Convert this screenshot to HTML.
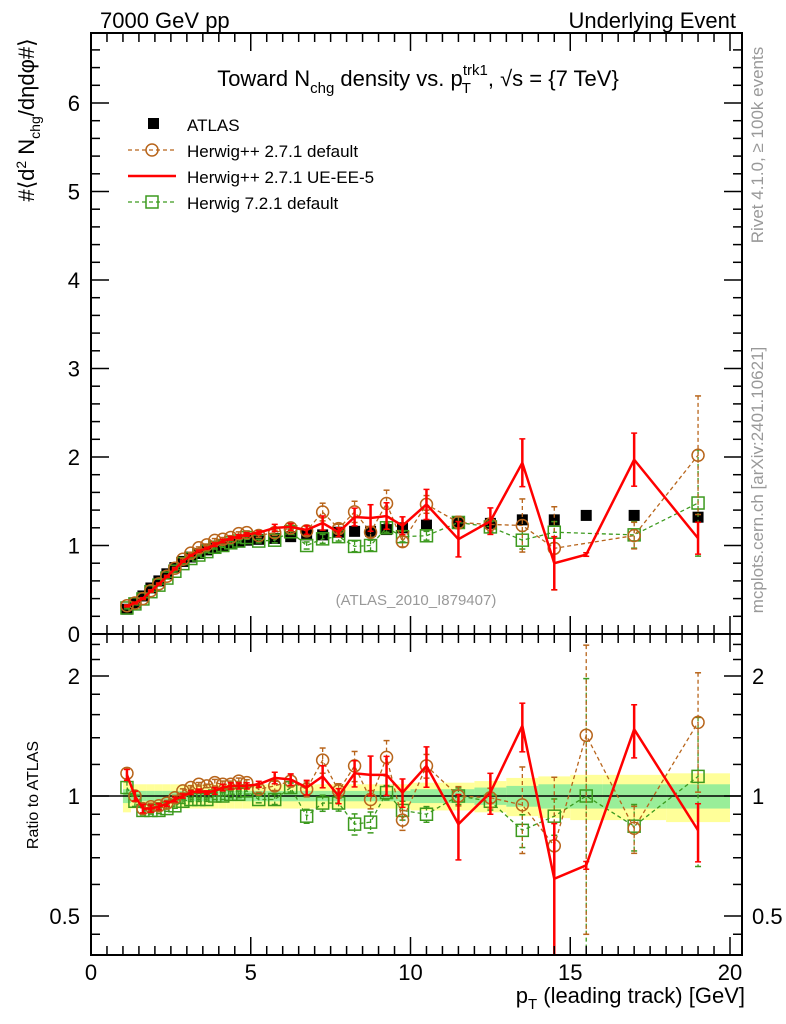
<!DOCTYPE html>
<html><head><meta charset="utf-8"><style>
html,body{margin:0;padding:0;background:#fff;width:786px;height:1024px;overflow:hidden;}
svg{display:block;font-family:"Liberation Sans",sans-serif;overflow:hidden;}
</style></head><body>
<svg id="chart" width="786" height="1024" viewBox="0 0 786 1024">
<g id="bands"></g><g id="grid"></g><g id="series"></g><g id="axes"></g>
<text x="100" y="28" font-size="22">7000 GeV pp</text>
<text x="736" y="28" font-size="22" text-anchor="end">Underlying Event</text>
<text x="418" y="86" font-size="22" text-anchor="middle">Toward N<tspan font-size="15" dy="7">chg</tspan><tspan dy="-7"> density vs. p</tspan><tspan font-size="15" dy="7" dx="-1">T</tspan><tspan font-size="15" dy="-18" dx="-8">trk1</tspan><tspan dy="11">, √s = {7 TeV}</tspan></text>
<g>
<rect x="148" y="118" width="11" height="11" fill="#000"/>
<text x="187" y="131" font-size="17">ATLAS</text>
<line x1="128" y1="150" x2="176" y2="150" stroke="#b8651b" stroke-width="1.3" stroke-dasharray="4,3"/>
<circle cx="152" cy="150" r="6" fill="none" stroke="#b8651b" stroke-width="1.5"/>
<text x="187" y="157" font-size="17">Herwig++ 2.7.1 default</text>
<line x1="128" y1="176" x2="176" y2="176" stroke="#f00" stroke-width="2.5"/>
<text x="187" y="183" font-size="17">Herwig++ 2.7.1 UE-EE-5</text>
<line x1="128" y1="202" x2="176" y2="202" stroke="#3c9a1e" stroke-width="1.3" stroke-dasharray="4,3"/>
<rect x="146" y="196" width="12" height="12" fill="none" stroke="#3c9a1e" stroke-width="1.5"/>
<text x="187" y="209" font-size="17">Herwig 7.2.1 default</text>
</g>
<text x="416" y="605" font-size="15" fill="#999" text-anchor="middle">(ATLAS_2010_I879407)</text>
<text transform="translate(763,145) rotate(-90)" font-size="17" fill="#999" text-anchor="middle">Rivet 4.1.0, ≥ 100k events</text>
<text transform="translate(763,480) rotate(-90)" font-size="17" fill="#999" text-anchor="middle">mcplots.cern.ch [arXiv:2401.10621]</text>
<text transform="translate(34,120) rotate(-90)" font-size="22" text-anchor="middle">#⟨d<tspan font-size="14" dy="-8">2</tspan><tspan dy="8"> N</tspan><tspan font-size="14" dy="6">chg</tspan><tspan dy="-6">/dηdφ#⟩</tspan></text>
<text transform="translate(38,795) rotate(-90)" font-size="16" text-anchor="middle">Ratio to ATLAS</text>
<text x="745" y="1003" font-size="22" text-anchor="end">p<tspan font-size="15" dy="6">T</tspan><tspan dy="-6"> (leading track) [GeV]</tspan></text>
</svg>
<script>
const xs=[1.125,1.375,1.625,1.875,2.125,2.375,2.625,2.875,3.125,3.375,3.625,3.875,4.125,4.375,4.625,4.875,5.25,5.75,6.25,6.75,7.25,7.75,8.25,8.75,9.25,9.75,10.5,11.5,12.5,13.5,14.5,15.5,17,19];
const binEdges=[1,1.25,1.5,1.75,2,2.25,2.5,2.75,3,3.25,3.5,3.75,4,4.25,4.5,4.75,5,5.5,6,6.5,7,7.5,8,8.5,9,9.5,10,11,12,13,14,15,16,18,20];
const atlas=[0.28,0.35,0.43,0.52,0.60,0.68,0.75,0.82,0.87,0.91,0.95,0.98,1.00,1.02,1.04,1.06,1.07,1.08,1.10,1.12,1.12,1.15,1.16,1.16,1.18,1.20,1.23,1.26,1.25,1.29,1.29,1.34,1.34,1.32];
const redVals=[0.316,0.35,0.40,0.484,0.564,0.649,0.735,0.82,0.887,0.937,0.969,1.009,1.05,1.081,1.102,1.124,1.145,1.199,1.21,1.176,1.254,1.15,1.322,1.311,1.333,1.224,1.464,1.071,1.275,1.935,0.80,0.898,1.97,1.082];
const redErr=[0.01,0.01,0.01,0.01,0.01,0.01,0.01,0.01,0.01,0.01,0.01,0.02,0.02,0.02,0.02,0.02,0.02,0.04,0.04,0.05,0.08,0.05,0.1,0.15,0.15,0.1,0.17,0.2,0.15,0.27,0.3,0.02,0.3,0.18];
const brownVals=[0.319,0.35,0.40,0.489,0.567,0.653,0.743,0.845,0.914,0.974,1.007,1.058,1.07,1.091,1.134,1.145,1.113,1.145,1.199,1.165,1.378,1.19,1.38,1.15,1.475,1.044,1.464,1.26,1.238,1.226,0.968,null,1.112,2.02];
const brownErr=[0.01,0.01,0.01,0.01,0.01,0.01,0.01,0.01,0.01,0.01,0.01,0.02,0.02,0.02,0.02,0.02,0.02,0.03,0.04,0.05,0.1,0.05,0.12,0.06,0.15,0.06,0.1,0.07,0.07,0.3,0.47,1.3,0.15,0.67];
const greenVals=[0.294,0.34,0.396,0.478,0.552,0.632,0.709,0.795,0.853,0.892,0.931,0.98,1.0,1.03,1.05,1.09,1.05,1.06,1.155,1.0,1.075,1.10,0.99,1.0,1.2,1.10,1.11,1.26,1.21,1.06,1.15,null,1.12,1.48];
const greenErr=[0.01,0.01,0.01,0.01,0.01,0.01,0.01,0.01,0.01,0.01,0.01,0.02,0.02,0.02,0.02,0.02,0.02,0.03,0.03,0.04,0.05,0.05,0.06,0.06,0.05,0.06,0.05,0.06,0.06,0.1,0.12,1.3,0.15,0.6];
const redRatio=[1.13,1.0,0.93,0.93,0.94,0.955,0.98,1.0,1.02,1.03,1.02,1.03,1.05,1.06,1.06,1.06,1.07,1.11,1.10,1.05,1.12,1.0,1.14,1.13,1.13,1.02,1.19,0.85,1.02,1.5,0.62,0.67,1.47,0.82];
const brownRatio=[1.14,1.0,0.93,0.94,0.945,0.96,0.99,1.03,1.05,1.07,1.06,1.08,1.07,1.07,1.09,1.08,1.04,1.06,1.09,1.04,1.23,1.03,1.19,0.98,1.25,0.87,1.19,1.0,0.99,0.95,0.75,1.42,0.83,1.53];
const greenRatio=[1.05,0.97,0.92,0.92,0.92,0.93,0.945,0.97,0.98,0.98,0.98,1.0,1.0,1.01,1.01,1.03,0.98,0.98,1.05,0.89,0.96,0.96,0.85,0.86,1.02,0.92,0.90,1.0,0.97,0.82,0.89,1.0,0.84,1.12];
const bandTot=[0.09,0.07,0.07,0.07,0.07,0.07,0.07,0.07,0.07,0.07,0.07,0.07,0.07,0.07,0.07,0.07,0.07,0.07,0.07,0.07,0.07,0.07,0.07,0.07,0.07,0.07,0.08,0.08,0.09,0.11,0.12,0.13,0.13,0.14];
const bandStat=[0.04,0.03,0.03,0.03,0.03,0.03,0.03,0.03,0.03,0.03,0.03,0.03,0.03,0.03,0.03,0.03,0.03,0.03,0.03,0.03,0.03,0.03,0.03,0.03,0.03,0.03,0.04,0.04,0.05,0.06,0.07,0.07,0.07,0.07];
const yTicks=[0,1,2,3,4,5,6];
const xTickLabels=[0,5,10,15,20];
const rTickLabels=[0.5,1,2];

const NS="http://www.w3.org/2000/svg";
const L=91,R=742,MT=33,MB=634,RB=955;
const X=v=>L+v*31.95, Ym=v=>MB-v*88.5, Yr=r=>796-120*Math.log2(r);
function el(tag,attrs,parent){const e=document.createElementNS(NS,tag);for(const k in attrs)e.setAttribute(k,attrs[k]);parent.appendChild(e);return e;}
const gB=document.getElementById('bands'),gS=document.getElementById('series'),gA=document.getElementById('axes');
const defs=el('defs',{},gS);const cp=el('clipPath',{id:'rclip'},defs);el('rect',{x:L,y:MB,width:R-L,height:RB-MB},cp);
const cpm=el('clipPath',{id:'mclip'},defs);el('rect',{x:L,y:MT,width:R-L,height:MB-MT},cpm);

xs.forEach((x,i)=>{
  const x0=X(binEdges[i]),x1=X(binEdges[i+1]);
  const y=el('rect',{x:x0,y:Yr(1+bandTot[i]),width:x1-x0,height:Yr(1-bandTot[i])-Yr(1+bandTot[i]),fill:'#ffff99'},gB);
  
  
});
xs.forEach((x,i)=>{
  const x0=X(binEdges[i]),x1=X(binEdges[i+1]);
  const g=el('rect',{x:x0,y:Yr(1+bandStat[i]),width:x1-x0,height:Yr(1-bandStat[i])-Yr(1+bandStat[i]),fill:'#99ee99'},gB);
  
  
});
el('line',{x1:L,x2:R,y1:Yr(1),y2:Yr(1),stroke:'#000','stroke-width':1.5},gB);

function drawSeries(vals,errs,ys,color,kind,width,dash,clip,name){
  const g=el('g',{'clip-path':'url(#'+clip+')'},gS);
  
  
  const pts=[];vals.forEach((v,i)=>{if(v!=null)pts.push([X(xs[i]),ys(v),i,v]);});
  if(kind!=='atlas'){
    const p=el('polyline',{points:pts.map(p=>p[0]+','+p[1]).join(' '),fill:'none',stroke:color,'stroke-width':width},g);
    if(dash)p.setAttribute('stroke-dasharray',dash);
  }
  pts.forEach(([px,py,i,v])=>{
    const e=errs[i];
    if(e){const a=ys(v+e),b=ys(Math.max(v-e,0.01));
      const l=el('line',{x1:px,x2:px,y1:a,y2:b,stroke:color,'stroke-width':kind==='red'?2.5:1.3},g);if(dash)l.setAttribute('stroke-dasharray',dash);
      el('line',{x1:px-3,x2:px+3,y1:a,y2:a,stroke:color,'stroke-width':1.5},g);
      el('line',{x1:px-3,x2:px+3,y1:b,y2:b,stroke:color,'stroke-width':1.5},g);}
    let m;
    if(kind==='atlas')m=el('rect',{x:px-5.5,y:py-5.5,width:11,height:11,fill:'#000'},g);
    else if(kind==='circle')m=el('circle',{cx:px,cy:py,r:6,fill:'none',stroke:color,'stroke-width':1.5},g);
    else if(kind==='square')m=el('rect',{x:px-6,y:py-6,width:12,height:12,fill:'none',stroke:color,'stroke-width':1.5},g);
    if(m){
      }
  });
}
const zero=xs.map(()=>0);
drawSeries(atlas,zero,Ym,'#000','atlas',0,null,'mclip','atlas-data');
drawSeries(greenVals,greenErr,Ym,'#3c9a1e','square',1.3,'4,3','mclip','herwig7-default-main');
drawSeries(brownVals,brownErr,Ym,'#b8651b','circle',1.3,'4,3','mclip','herwigpp-default-main');
drawSeries(redVals,redErr,Ym,'#f00','red',2.5,null,'mclip','herwigpp-ueee5-main');
const rel=(errs)=>errs.map((e,i)=>e/atlas[i]);
drawSeries(greenRatio,rel(greenErr),Yr,'#3c9a1e','square',1.3,'4,3','rclip','herwig7-default-ratio');
drawSeries(brownRatio,rel(brownErr),Yr,'#b8651b','circle',1.3,'4,3','rclip','herwigpp-default-ratio');
drawSeries(redRatio,rel(redErr),Yr,'#f00','red',2.5,null,'rclip','herwigpp-ueee5-ratio');

el('rect',{x:L,y:MT,width:R-L,height:MB-MT,fill:'none',stroke:'#000','stroke-width':2},gA);
el('rect',{x:L,y:MB,width:R-L,height:RB-MB,fill:'none',stroke:'#000','stroke-width':2},gA);
function tk(x1,y1,x2,y2){el('line',{x1,y1,x2,y2,stroke:'#000','stroke-width':1.5},gA);}
for(let v=0;v<=20.5;v+=0.5){const px=X(v);if(px>R)break;const big=v%5===0;const len=big?18:9;
  tk(px,MB,px,MB-len);tk(px,MT,px,MT+len);tk(px,RB,px,RB-len);tk(px,MB,px,MB+len);}
xTickLabels.forEach(v=>{const t=el('text',{x:X(v),y:980,'font-size':22,'text-anchor':'middle'},gA);t.textContent=v;
  
  });
for(let v=0;v<=6.8;v+=0.2){const py=Ym(v);if(py<MT)break;const big=Math.abs(v-Math.round(v))<1e-6;const len=big?18:9;
  tk(L,py,L+len,py);tk(R,py,R-len,py);}
yTicks.forEach(v=>{const t=el('text',{x:80,y:Ym(v)+8,'font-size':22,'text-anchor':'end'},gA);t.textContent=v;
  
  });
[0.45,0.5,0.6,0.7,0.8,0.9,1,1.2,1.4,1.6,1.8,2,2.2,2.4].forEach(r=>{const py=Yr(r);if(py>RB||py<MB)return;const big=rTickLabels.includes(r);const len=big?18:9;
  tk(L,py,L+len,py);tk(R,py,R-len,py);});
rTickLabels.forEach(r=>{
  const t=el('text',{x:80,y:Yr(r)+8,'font-size':22,'text-anchor':'end'},gA);t.textContent=r;
  
  
  const t2=el('text',{x:752,y:Yr(r)+8,'font-size':22},gA);t2.textContent=r;
  
  
});
</script>
</body></html>
